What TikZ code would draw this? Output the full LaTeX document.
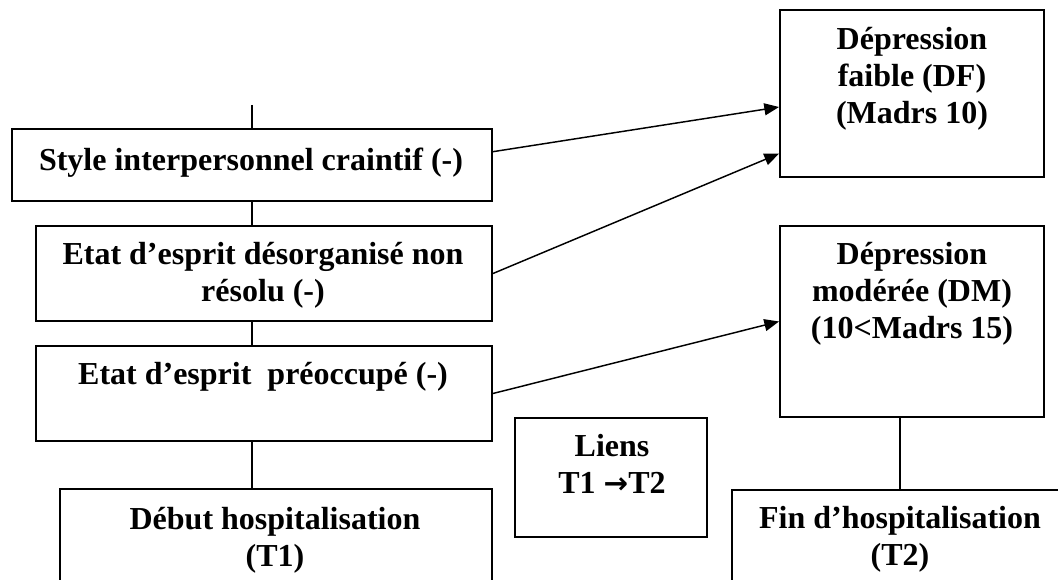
\documentclass[tikz,border=0pt]{standalone}
\usepackage{fontspec}
\setmainfont{Liberation Serif}
\newfontfamily\symfont{DejaVu Sans}
\usetikzlibrary{arrows.meta,fit,calc}
\newcommand{\tlines}[1]{\begin{tabular}[t]{@{}c@{}}#1\end{tabular}}
\begin{document}
\begin{tikzpicture}[x=0.75pt,y=-0.75pt,
  box/.style={draw, line width=1.5pt, inner sep=0pt},
  txt/.style={inner sep=0pt, anchor=base, font=\fontsize{24}{27.5}\selectfont\bfseries},
  link/.style={line width=1.1pt},
  arr/.style={line width=1.1pt, -{Triangle[length=11pt,width=9pt]}}]
\useasboundingbox (0,0) rectangle (1058,580);
\clip (0,0) rectangle (1058,580);
% boxes
\node[box, fit={(12,129) (492,201)}] (b1) {};
\node[box, fit={(36,226) (492,321)}] (b2) {};
\node[box, fit={(36,346) (492,441)}] (b3) {};
\node[box, fit={(60,489) (492,610)}] (t1) {};
\node[box, fit={(515,418) (707,537)}] (li) {};
\node[box, fit={(780,10) (1044,177)}] (df) {};
\node[box, fit={(780,226) (1044,417)}] (dm) {};
\node[box, fit={(732,490) (1068,610)}] (t2) {};
% texts
\node[txt] (b1t) at (251,171) {Style interpersonnel craintif (-)};
\node[txt] (b2t) at (263,265) {\tlines{Etat d’esprit désorganisé non\\résolu (-)}};
\node[txt] (b3t) at (263,385) {Etat d’esprit~~préoccupé (-)};
\node[txt] (t1t) at (275,530) {\tlines{Début hospitalisation\\(T1)}};
\node[txt] (lit) at (612,457) {\tlines{Liens\\T1 {\symfont\bfseries\fontsize{22}{24}\selectfont →}T2}};
\node[txt] (dft) at (912,50) {\tlines{Dépression\\faible (DF)\\(Madrs 10)}};
\node[txt] (dmt) at (912,265) {\tlines{Dépression\\modérée (DM)\\(10<Madrs 15)}};
\node[txt] (t2t) at (900,529) {\tlines{Fin d’hospitalisation\\(T2)}};
% connectors
\coordinate (topend) at (252,105);
\draw[link] (topend) -- (b1.north);
\draw[link] (b1.south) -- (b1.south |- b2.north);
\draw[link] (b2.south -| b1.south) -- (b3.north -| b1.south);
\draw[link] (b3.south -| b1.south) -- (t1.north -| b1.south);
\draw[link] (dm.south -| t2.north) -- (t2.north);
% arrows
\draw[arr] ($(b1.north east)!0.32!(b1.south east)$) -- ($(df.north west)!0.58!(df.south west)$);
\draw[arr] (b2.east) -- ($(df.north west)!0.856!(df.south west)$);
\draw[arr] (b3.east) -- (dm.west);
\end{tikzpicture}
\end{document}
